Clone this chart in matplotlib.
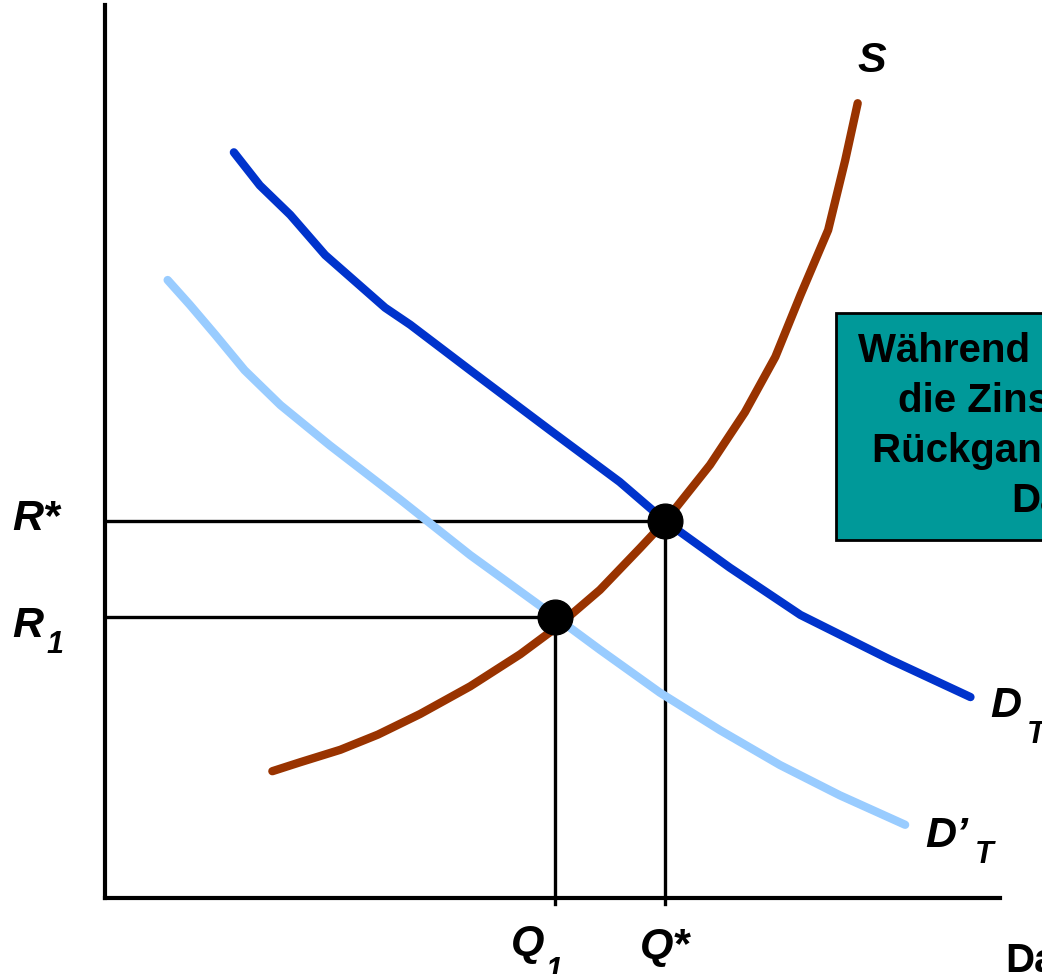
import matplotlib
matplotlib.use("Agg")
import matplotlib.pyplot as plt
from matplotlib.patches import Rectangle

plt.rcParams["font.family"] = ["Liberation Sans", "DejaVu Sans"]

# supply curve S (quantity, rate)
s_q = [18.7, 21.8, 26.3, 30.5, 35.2, 40.8, 46.4, 50.3, 55.3, 59.8, 62.6, 67.6, 71.5, 74.9, 77.7, 80.8, 82.7, 84.1]
s_r = [14.2, 15.2, 16.6, 18.3, 20.6, 23.7, 27.3, 30.2, 34.5, 39.2, 42.2, 48.5, 54.4, 60.6, 67.5, 74.8, 82.6, 89.0]

# demand D_T (dark blue)
d_q = [14.4, 17.3, 20.7, 24.6, 31.3, 34.1, 40.8, 49.7, 57.5, 62.6, 69.8, 77.7, 87.7, 96.7]
d_r = [83.5, 79.8, 76.5, 72.0, 66.1, 64.2, 59.1, 52.4, 46.6, 42.2, 37.0, 31.7, 26.7, 22.5]

# demand D'_T (light blue, after shift)
d2_q = [7.0, 9.5, 12.3, 15.6, 19.6, 25.1, 33.0, 40.8, 50.3, 55.3, 62.0, 68.7, 75.4, 82.1, 89.4]
d2_r = [69.2, 66.4, 63.1, 59.1, 55.2, 50.7, 44.6, 38.4, 31.5, 27.8, 23.0, 18.8, 14.9, 11.5, 8.2]

# equilibria
eq_q = [62.6, 50.3]
eq_r = [42.2, 31.5]

box_lines = ["Während einer Rezession", "die Zinssätze wegen dem", "Rückgang der Nachfrage", "Darlehen"]

fig = plt.figure(figsize=(10.42, 9.74), dpi=100)
ax = fig.add_axes([105 / 1042, 76 / 974, 895 / 1042, 893 / 974])
ax.set_xlim(0, 100)
ax.set_ylim(0, 100)
for side in ["top", "right"]:
    ax.spines[side].set_visible(False)
for side in ["left", "bottom"]:
    ax.spines[side].set_linewidth(3)
ax.set_xticks([])
ax.set_yticks([])
ax.patch.set_alpha(0)

# reference lines to axes
for q, r in zip(eq_q, eq_r):
    ax.plot([0, q], [r, r], color="black", lw=2.4, zorder=2)
    ax.plot([q, q], [-0.7, r], color="black", lw=2.4, zorder=2, clip_on=False)

ax.plot(d2_q, d2_r, color="#99CCFF", lw=6, solid_capstyle="round", zorder=3)
ax.plot(d_q, d_r, color="#0033CC", lw=6, solid_capstyle="round", zorder=3)
ax.plot(s_q, s_r, color="#993300", lw=6, solid_capstyle="round", zorder=4)
ax.plot(eq_q, eq_r, "o", color="black", ms=25, zorder=5)

lab = dict(fontsize=31, fontweight="bold", fontstyle="italic", va="baseline", ha="left")
sub = dict(fontsize=22, fontweight="bold", fontstyle="italic", va="baseline", ha="left")
ax.text(84.1, 92.5, "S", **lab)
ax.text(-10.4, 41.2, "R*", **lab)
ax.text(-10.4, 29.2, "R", **lab)
ax.text(-6.5, 27.4, "1", **sub)
ax.text(59.8, -6.7, "Q*", **lab)
ax.text(45.3, -6.4, "Q", **lab)
ax.text(49.2, -9.1, "1", **sub)
ax.text(98.9, 20.3, "D", **lab)
ax.text(103.0, 17.4, "T", **sub)
ax.text(91.6, 5.7, "D’", **lab)
ax.text(97.2, 3.9, "T", **sub)
ax.text(100.6, -8.3, "Darlehen", fontsize=29, fontweight="bold", va="baseline", ha="left")

# text box (runs off the right edge)
ax.add_patch(Rectangle((81.7, 40.1), 40, 25.4, facecolor="#009999", edgecolor="black",
                       lw=2, clip_on=False, zorder=6))
line_x = [84.1, 88.6, 85.7, 101.3]
line_y = [60.0, 54.4, 48.8, 43.2]
for x, y, t in zip(line_x, line_y, box_lines):
    ax.text(x, y, t, fontsize=29, fontweight="bold", va="baseline", ha="left", zorder=7)

fig.savefig("out.png", dpi=100)
